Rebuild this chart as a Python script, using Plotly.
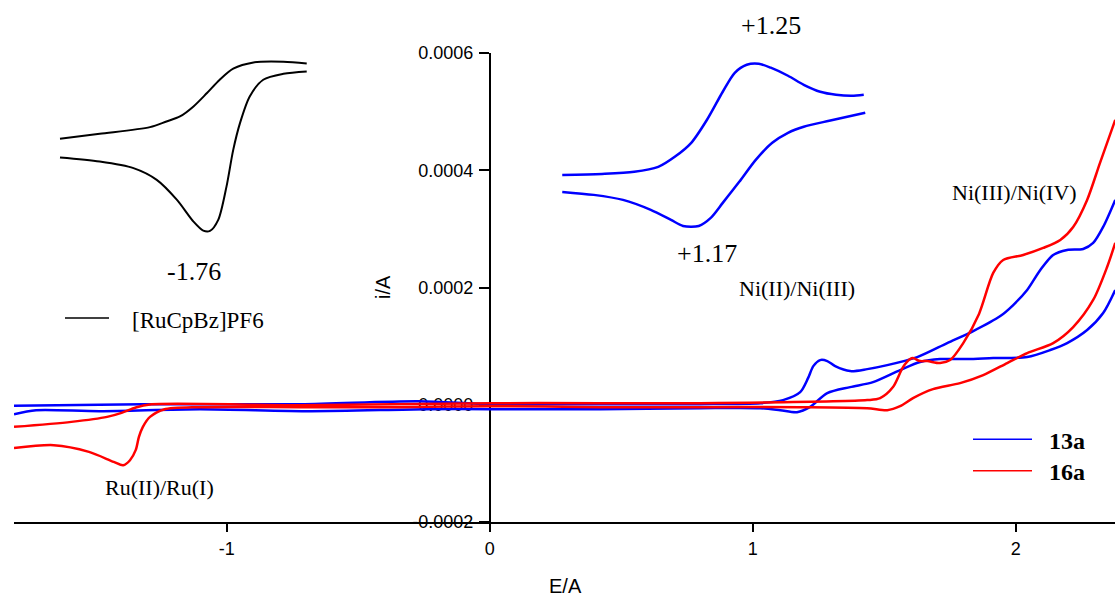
import plotly.graph_objects as go

# ---------------- main CV data (E in V, i in A) ----------------
# 13a (blue)
e13_fwd = [-1.809, -1.32, -0.72, -0.27, 0.0, 0.42, 0.80, 1.03, 1.115, 1.18, 1.21, 1.23, 1.256,
           1.283, 1.313, 1.37, 1.435, 1.511, 1.625, 1.739, 1.838, 1.941, 1.99, 2.043, 2.093,
           2.142, 2.195, 2.256, 2.294, 2.332, 2.378]
i13_fwd = [-1.9e-6, 1.0e-6, 1.0e-6, 6.1e-6, 1.0e-6, 1.0e-6, 1.0e-6, 2.7e-6, 7.9e-6, 2.15e-5,
           4.54e-5, 6.59e-5, 7.62e-5, 7.45e-5, 6.59e-5, 5.74e-5, 6.08e-5, 6.76e-5, 8.13e-5,
           1.052e-4, 1.257e-4, 1.513e-4, 1.701e-4, 1.957e-4, 2.298e-4, 2.555e-4, 2.640e-4,
           2.657e-4, 2.760e-4, 3.033e-4, 3.494e-4]
e13_rev = [2.378, 2.332, 2.271, 2.195, 2.131, 2.043, 1.914, 1.815, 1.712, 1.636, 1.56, 1.457,
           1.37, 1.283, 1.218, 1.168, 1.104, 1.028, 0.80, 0.42, 0.0, -0.246, -0.68, -1.102,
           -1.482, -1.725, -1.809]
i13_rev = [1.957e-4, 1.564e-4, 1.274e-4, 1.052e-4, 9.33e-5, 8.13e-5, 7.96e-5, 7.79e-5, 7.79e-5,
           7.28e-5, 5.91e-5, 3.86e-5, 3.01e-5, 1.98e-5, -3.6e-6, -1.26e-5, -9.2e-6, -5.8e-6,
           -5.8e-6, -7.5e-6, -7.5e-6, -7.5e-6, -1.09e-5, -7.5e-6, -1.09e-5, -9.2e-6, -1.61e-5]

# 16a (red)
e16_fwd = [-1.809, -1.591, -1.455, -1.400, -1.346, -1.292, -0.721, 0.0, 0.419, 0.80, 1.435,
           1.484, 1.533, 1.571, 1.598, 1.609, 1.636, 1.663, 1.712, 1.75, 1.80, 1.86, 1.914,
           1.952, 2.028, 2.104, 2.169, 2.218, 2.271, 2.32, 2.378]
i16_fwd = [-3.77e-5, -2.92e-5, -2.07e-5, -1.38e-5, -4.6e-6, 5.0e-7, -7e-7, 2.7e-6, 2.7e-6,
           2.7e-6, 7.9e-6, 1.13e-5, 3.01e-5, 6.42e-5, 7.79e-5, 7.96e-5, 7.45e-5, 7.45e-5,
           7.11e-5, 7.62e-5, 1.052e-4, 1.55e-4, 2.248e-4, 2.470e-4, 2.555e-4, 2.675e-4,
           2.811e-4, 3.033e-4, 3.494e-4, 4.126e-4, 4.860e-4]
e16_rev = [2.378, 2.347, 2.294, 2.218, 2.142, 2.043, 1.967, 1.876, 1.788, 1.685, 1.609, 1.56,
           1.511, 1.435, 1.18, 0.80, 0.419, 0.0, -0.341, -0.721, -1.102, -1.239, -1.292,
           -1.319, -1.334, -1.346, -1.368, -1.394, -1.430, -1.524, -1.658, -1.809]
i16_rev = [2.760e-4, 2.350e-4, 1.787e-4, 1.325e-4, 1.052e-4, 8.81e-5, 7.11e-5, 5.06e-5,
           3.69e-5, 2.66e-5, 1.13e-5, -2.4e-6, -9.2e-6, -5.8e-6, -4.1e-6, -4.1e-6, -4.1e-6,
           -2.4e-6, -4.1e-6, -4.1e-6, -4.1e-6, -8.0e-6, -2.07e-5, -3.77e-5, -5.48e-5,
           -7.7e-5, -9.46e-5, -1.032e-4, -9.75e-5, -8.04e-5, -6.9e-5, -7.4e-5]

# ---------------- inset CVs (E in V, i in arbitrary µA) ----------------
ru_up_e = [-1.956, -1.903, -1.836, -1.814, -1.796, -1.778, -1.760, -1.743, -1.725, -1.698,
           -1.658, -1.627]
ru_up_i = [45.36, 46.22, 47.36, 48.32, 49.17, 50.88, 53.17, 55.44, 57.32, 58.39, 58.51, 58.22]
ru_dn_e = [-1.956, -1.903, -1.858, -1.827, -1.800, -1.778, -1.765, -1.756, -1.745, -1.734,
           -1.725, -1.716, -1.703, -1.685, -1.658, -1.627]
ru_dn_i = [42.17, 41.48, 40.36, 38.36, 34.94, 31.24, 29.70, 29.65, 31.53, 37.21, 43.48,
           48.04, 52.59, 55.44, 56.46, 56.86]

ni_up_e = [0.997, 1.050, 1.093, 1.125, 1.147, 1.169, 1.190, 1.211, 1.227, 1.243, 1.259,
           1.275, 1.298, 1.319, 1.341, 1.362, 1.383, 1.399]
ni_up_i = [39.21, 39.38, 39.73, 40.58, 42.29, 44.68, 48.61, 53.39, 56.63, 58.00, 58.17,
           57.49, 56.12, 54.58, 53.39, 52.88, 52.71, 52.88]
ni_dn_e = [0.997, 1.039, 1.078, 1.115, 1.142, 1.158, 1.179, 1.195, 1.211, 1.233, 1.255,
           1.277, 1.298, 1.319, 1.353, 1.401]
ni_dn_i = [36.31, 35.80, 34.94, 33.24, 31.53, 30.50, 30.50, 31.87, 34.43, 38.02, 41.77,
           44.68, 46.39, 47.41, 48.44, 49.80]

x_ticks = [-1, 0, 1, 2]
x_tick_text = ["-1", "0", "1", "2"]
y_ticks = [-0.0002, 0.0, 0.0002, 0.0004, 0.0006]
y_tick_text = ["-0.0002", "0.0000", "0.0002", "0.0004", "0.0006"]

SANS = "Liberation Sans, Arial, sans-serif"
SERIF = "Liberation Serif, Times New Roman, serif"
BLUE = "#0000FF"
RED = "#FF0000"

fig = go.Figure()

def loop(a, b):
    return list(a) + [None] + list(b)

fig.add_trace(go.Scatter(x=loop(e13_fwd, e13_rev), y=loop(i13_fwd, i13_rev), mode="lines",
                         line=dict(color=BLUE, width=2.5, shape="spline", smoothing=0.8),
                         name="13a", connectgaps=False))
fig.add_trace(go.Scatter(x=loop(e16_fwd, e16_rev), y=loop(i16_fwd, i16_rev), mode="lines",
                         line=dict(color=RED, width=2.5, shape="spline", smoothing=0.8),
                         name="16a", connectgaps=False))
fig.add_trace(go.Scatter(x=loop(ru_up_e, ru_dn_e), y=loop(ru_up_i, ru_dn_i), mode="lines",
                         xaxis="x2", yaxis="y2",
                         line=dict(color="black", width=2.0, shape="spline", smoothing=0.8),
                         name="[RuCpBz]PF6", connectgaps=False))
fig.add_trace(go.Scatter(x=loop(ni_up_e, ni_dn_e), y=loop(ni_up_i, ni_dn_i), mode="lines",
                         xaxis="x3", yaxis="y2",
                         line=dict(color=BLUE, width=2.5, shape="spline", smoothing=0.8),
                         name="13a inset", connectgaps=False))

W, H = 1115, 597
PLOT_L, PLOT_R, PLOT_T, PLOT_B = 14, 1115, 53, 522   # plot area in window pixels
L, R, T, B = PLOT_L, W - PLOT_R, PLOT_T, H - PLOT_B
PW, PH = PLOT_R - PLOT_L, PLOT_B - PLOT_T

def px(xp):
    return (xp - PLOT_L) / PW

def py(yp):
    return (PLOT_B - yp) / PH

fig.update_layout(
    width=W, height=H,
    margin=dict(l=L, r=R, t=T, b=B, autoexpand=False),
    plot_bgcolor="white", paper_bgcolor="white",
    showlegend=False,
    xaxis=dict(range=[-1.809, 2.377], tickvals=x_ticks, ticktext=x_tick_text,
               showline=True, linecolor="black", linewidth=1.5, mirror=False,
               ticks="outside", ticklen=8, tickwidth=1.5, tickcolor="black",
               showgrid=False, zeroline=False, ticklabelstandoff=2,
               tickfont=dict(family=SANS, size=18, color="black")),
    yaxis=dict(range=[-0.0002, 0.0006], tickvals=y_ticks, ticktext=y_tick_text,
               anchor="free", position=px(489.7),
               showline=True, linecolor="black", linewidth=1.5,
               ticks="outside", ticklen=10, tickwidth=1.5, tickcolor="black",
               showgrid=False, zeroline=False, layer="below traces", ticklabelstandoff=2,
               tickfont=dict(family=SANS, size=18, color="black")),
    xaxis2=dict(overlaying="x", range=[-2.0173, -0.5493], visible=False, anchor="y2"),
    xaxis3=dict(overlaying="x", range=[0.266, 1.734], visible=False, anchor="y2"),
    yaxis2=dict(overlaying="y", range=[-20, 60], visible=False, anchor="x2"),
)

def ann(text, xp, yp, size, family=SERIF, xanchor="center", angle=0):
    fig.add_annotation(text=text, x=px(xp), y=py(yp), xref="paper", yref="paper",
                       showarrow=False, xanchor=xanchor, yanchor="middle", textangle=angle,
                       font=dict(family=family, size=size, color="black"))

ann("+1.25", 771, 26, 26)
ann("+1.17", 706.5, 253.5, 26)
ann("Ni(II)/Ni(III)", 797, 288, 22)
ann("Ni(III)/Ni(IV)", 1014, 192, 22)
ann("-1.76", 193.5, 271, 26)
ann("[RuCpBz]PF6", 130, 320, 23, xanchor="left")
ann("Ru(II)/Ru(I)", 159, 487, 22)
ann("<b>13a</b>", 1047, 441.3, 24, xanchor="left")
ann("<b>16a</b>", 1047, 472.3, 24, xanchor="left")
ann("i/A", 383, 287, 20, family=SANS, angle=-90)
ann("E/A", 565, 586, 20, family=SANS)

for x0, x1, yl, col in [(65, 109, 318, "black"), (973, 1032, 439.3, BLUE), (973, 1032, 470.7, RED)]:
    fig.add_shape(type="line", xref="paper", yref="paper", x0=px(x0), x1=px(x1),
                  y0=py(yl), y1=py(yl), line=dict(color=col, width=1.5))

# remove the browser's default 8px body margin so the figure fills the window exactly
fig.write_html("out.html",
               config={"displayModeBar": False},
               post_script="document.body.style.margin='0px';"
                           "document.body.style.overflow='hidden';")
